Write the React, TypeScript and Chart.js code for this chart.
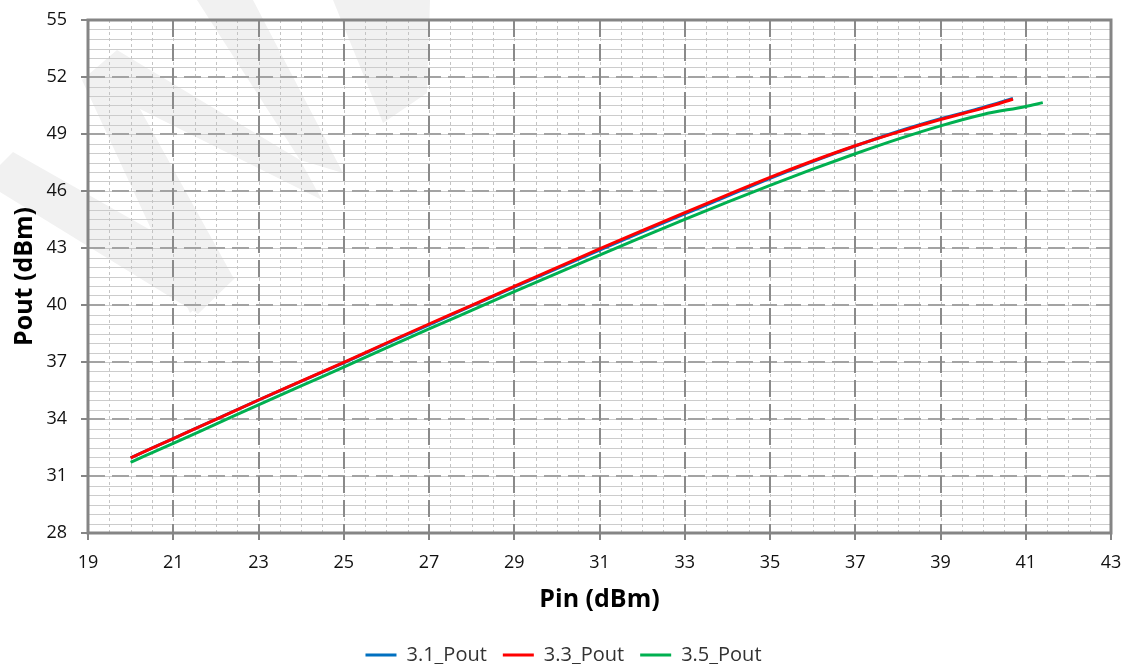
import React, { useEffect, useRef } from "react";
import { Chart, registerables } from "chart.js";

Chart.register(...registerables);

// ---------- data ----------
const seriesNames = ["3.1_Pout", "3.3_Pout", "3.5_Pout"];
const seriesColors = ["#0070C0", "#FF0000", "#00B050"];

const pin31 = [20, 21, 22, 23, 24, 25, 26, 27, 28, 29, 30, 31, 32, 33, 34, 35, 36, 37, 38, 39, 40, 40.7];
const pout31 = [31.96, 32.97, 33.98, 34.99, 35.98, 36.96, 37.97, 38.96, 39.95, 40.94, 41.92, 42.89, 43.85, 44.79, 45.73, 46.66, 47.55, 48.37, 49.13, 49.8, 50.4, 50.87];

const pin33 = [20, 21, 22, 23, 24, 25, 26, 27, 28, 29, 30, 31, 32, 33, 34, 35, 36, 37, 38, 39, 40, 40.7];
const pout33 = [31.96, 32.97, 33.98, 35.0, 35.99, 36.98, 38.0, 39.0, 39.98, 40.98, 41.97, 42.95, 43.91, 44.86, 45.8, 46.72, 47.58, 48.38, 49.1, 49.76, 50.36, 50.83];

const pin35 = [20, 21, 22, 23, 24, 25, 26, 27, 28, 29, 30, 31, 32, 33, 34, 35, 36, 37, 38, 39, 40, 41, 41.4];
const pout35 = [31.72, 32.72, 33.73, 34.74, 35.74, 36.73, 37.74, 38.74, 39.72, 40.7, 41.67, 42.62, 43.57, 44.51, 45.42, 46.3, 47.15, 47.96, 48.73, 49.43, 50.03, 50.45, 50.65];

const xMin = 19, xMax = 43, xStep = 2, xMinorStep = 0.5;
const yMin = 28, yMax = 55, yStep = 3, yMinorStep = 0.5;

const xTitle = "Pin (dBm)";
const yTitle = "Pout (dBm)";

// faint background watermark shapes (decoration, page pixels)
const watermark: number[][][] = [
  [[0, 165], [13, 152], [235, 278], [198, 314], [0, 192]],
  [[82, 80], [135, 100], [233, 277], [190, 313]],
  [[82, 80], [117, 50], [300, 160], [322, 200]],
  [[197, 0], [253, 0], [343, 173], [300, 160]],
  [[333, 0], [430, 0], [427, 93], [383, 123]],
];

const FONT = "'Open Sans', 'DejaVu Sans', sans-serif";
const AXIS_GRAY = "#858585";

const excelGrid = {
  id: "excelGrid",
  beforeDraw(chart: any) {
    const { ctx, chartArea: a, scales } = chart;
    const x = scales.x, y = scales.y;
    ctx.save();
    // watermark
    ctx.fillStyle = "#f1f1f1";
    for (const poly of watermark) {
      ctx.beginPath();
      poly.forEach((p, i) => (i === 0 ? ctx.moveTo(p[0], p[1]) : ctx.lineTo(p[0], p[1])));
      ctx.closePath();
      ctx.fill();
    }
    // minor horizontal (solid)
    ctx.strokeStyle = "#cccccc";
    ctx.lineWidth = 1;
    ctx.setLineDash([]);
    for (let v = yMin; v <= yMax + 1e-9; v += yMinorStep) {
      const py = Math.round(y.getPixelForValue(v)) + 0.5;
      ctx.beginPath();
      ctx.moveTo(a.left, py);
      ctx.lineTo(a.right, py);
      ctx.stroke();
    }
    // minor vertical (dashed)
    ctx.strokeStyle = "#c4c4c4";
    ctx.setLineDash([3, 3]);
    for (let v = xMin; v <= xMax + 1e-9; v += xMinorStep) {
      const px = Math.round(x.getPixelForValue(v)) + 0.5;
      ctx.beginPath();
      ctx.moveTo(px, a.top);
      ctx.lineTo(px, a.bottom);
      ctx.stroke();
    }
    // major horizontal dashed
    ctx.lineWidth = 2;
    ctx.strokeStyle = "#a3a3a3";
    ctx.setLineDash([17, 7]);
    for (let v = yMin; v <= yMax + 1e-9; v += yStep) {
      const py = Math.round(y.getPixelForValue(v));
      ctx.beginPath();
      ctx.moveTo(a.left, py);
      ctx.lineTo(a.right, py);
      ctx.stroke();
    }
    // major vertical dashed
    ctx.strokeStyle = "#8a8a8a";
    for (let v = xMin; v <= xMax + 1e-9; v += xStep) {
      const px = Math.round(x.getPixelForValue(v));
      ctx.beginPath();
      ctx.moveTo(px, a.top);
      ctx.lineTo(px, a.bottom);
      ctx.stroke();
    }
    // frame
    ctx.setLineDash([]);
    ctx.lineWidth = 3;
    ctx.strokeStyle = AXIS_GRAY;
    ctx.strokeRect(a.left, a.top, a.right - a.left, a.bottom - a.top);
    // outer tick marks
    ctx.lineWidth = 2;
    for (let v = yMin; v <= yMax + 1e-9; v += yStep) {
      const py = Math.round(y.getPixelForValue(v));
      ctx.beginPath();
      ctx.moveTo(a.left - 7, py);
      ctx.lineTo(a.left, py);
      ctx.stroke();
    }
    for (let v = xMin; v <= xMax + 1e-9; v += xStep) {
      const px = Math.round(x.getPixelForValue(v));
      ctx.beginPath();
      ctx.moveTo(px, a.bottom);
      ctx.lineTo(px, a.bottom + 7);
      ctx.stroke();
    }
    ctx.restore();
  },
};

function makePoints(xs: number[], ys: number[]) {
  return xs.map((v, i) => ({ x: v, y: ys[i] }));
}

export default function App() {
  const ref = useRef<HTMLCanvasElement | null>(null);

  useEffect(() => {
    if (!ref.current) return;
    const series = [
      makePoints(pin31, pout31),
      makePoints(pin33, pout33),
      makePoints(pin35, pout35),
    ];
    const drawOrder = [1, 0, 2];
    const chart = new Chart(ref.current, {
      type: "line",
      data: {
        datasets: series.map((pts, i) => ({
          label: seriesNames[i],
          data: pts,
          borderColor: seriesColors[i],
          backgroundColor: seriesColors[i],
          borderWidth: 3,
          pointRadius: 0,
          fill: false,
          cubicInterpolationMode: "monotone" as const,
          order: drawOrder[i],
        })),
      },
      options: {
        responsive: false,
        animation: false,
        devicePixelRatio: 1,
        layout: { padding: { top: 20, right: 16, left: 16, bottom: -11 } },
        plugins: {
          legend: {
            position: "bottom",
            labels: {
              boxWidth: 31,
              boxHeight: 0,
              padding: 16,
              color: "#333333",
              font: { family: FONT, size: 20 },
              sort: (a: any, b: any) => a.datasetIndex - b.datasetIndex,
            },
          },
          tooltip: { enabled: false },
        },
        scales: {
          x: {
            type: "linear",
            min: xMin,
            max: xMax,
            ticks: {
              stepSize: xStep,
              color: "#111111",
              font: { family: FONT, size: 18 },
              padding: 3,
              maxRotation: 0,
              autoSkip: false,
            },
            grid: {
              display: true,
              drawOnChartArea: false,
              drawTicks: true,
              tickLength: 16,
              tickColor: "rgba(0,0,0,0)",
              lineWidth: 2,
            },
            border: { display: false },
            title: {
              display: true,
              text: xTitle,
              color: "#000000",
              font: { family: FONT, size: 25, weight: "bold" },
              padding: { top: 0, bottom: 14 },
            },
            afterFit: (s: any) => {
              s.height = 96;
            },
          },
          y: {
            type: "linear",
            min: yMin,
            max: yMax,
            ticks: {
              stepSize: yStep,
              color: "#111111",
              font: { family: FONT, size: 18 },
              padding: 8,
            },
            grid: {
              display: true,
              drawOnChartArea: false,
              drawTicks: true,
              tickLength: 13,
              tickColor: "rgba(0,0,0,0)",
              lineWidth: 2,
            },
            border: { display: false },
            title: {
              display: true,
              text: yTitle,
              color: "#000000",
              font: { family: FONT, size: 25, weight: "bold" },
              padding: { top: -6, bottom: 0 },
            },
            afterFit: (s: any) => {
              s.width = 72;
            },
          },
        },
      },
      plugins: [excelGrid],
    } as any);
    return () => chart.destroy();
  }, []);

  return (
    <div style={{ position: "absolute", left: 0, top: 0, width: 1127, height: 664, background: "#ffffff" }}>
      <canvas ref={ref} width={1127} height={664} style={{ display: "block" }} />
    </div>
  );
}
